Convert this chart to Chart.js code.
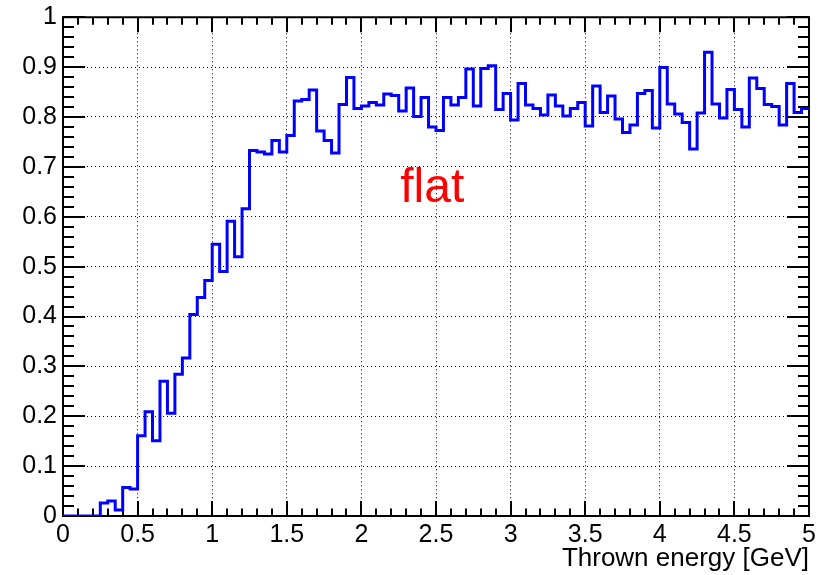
<!DOCTYPE html>
<html>
<head>
<meta charset="utf-8">
<script src="https://cdn.jsdelivr.net/npm/chart.js@4/dist/chart.umd.min.js"></script>
<style>
  html, body { margin: 0; padding: 0; background: #fff; }
  canvas { display: block; }
</style>
</head>
<body>
<canvas id="eff-chart" width="823" height="575"></canvas>
<script>
// efficiency histogram: 100 bins of 0.05 GeV between 0 and 5 GeV
var binLow = 0.0;
var binWidth = 0.05;
var efficiency = [
  0.000, 0.000, 0.000, 0.000, 0.000, 0.026, 0.030, 0.012, 0.057, 0.054,
  0.161, 0.209, 0.151, 0.270, 0.206, 0.284, 0.317, 0.404, 0.438, 0.472,
  0.545, 0.490, 0.591, 0.520, 0.616, 0.733, 0.730, 0.726, 0.753, 0.730,
  0.763, 0.832, 0.835, 0.854, 0.772, 0.753, 0.728, 0.825, 0.879, 0.817,
  0.822, 0.829, 0.824, 0.846, 0.843, 0.812, 0.858, 0.801, 0.839, 0.780,
  0.773, 0.839, 0.824, 0.839, 0.896, 0.822, 0.897, 0.903, 0.815, 0.847,
  0.794, 0.867, 0.824, 0.817, 0.804, 0.844, 0.822, 0.802, 0.817, 0.829,
  0.782, 0.862, 0.809, 0.842, 0.796, 0.769, 0.784, 0.847, 0.853, 0.778,
  0.899, 0.826, 0.806, 0.789, 0.736, 0.808, 0.930, 0.826, 0.798, 0.855,
  0.815, 0.780, 0.878, 0.857, 0.825, 0.821, 0.784, 0.867, 0.809, 0.817
];

var xTickValues = [0, 0.5, 1, 1.5, 2, 2.5, 3, 3.5, 4, 4.5, 5];
var xTickLabels = ['0', '0.5', '1', '1.5', '2', '2.5', '3', '3.5', '4', '4.5', '5'];
var yTickValues = [0, 0.1, 0.2, 0.3, 0.4, 0.5, 0.6, 0.7, 0.8, 0.9, 1];
var yTickLabels = ['0', '0.1', '0.2', '0.3', '0.4', '0.5', '0.6', '0.7', '0.8', '0.9', '1'];

var xTitle = 'Thrown energy [GeV]';
var tag = 'flat';

var FONT = "'Liberation Sans', Arial, Helvetica, sans-serif";

// one point per bin low edge, plus the upper edge of the last bin
var points = efficiency.map(function(v, i) {
  return { x: binLow + i * binWidth, y: v };
});
points.push({ x: binLow + efficiency.length * binWidth, y: efficiency[efficiency.length - 1] });

// ROOT style frame: box with inward ticks on all four sides
var rootFrame = {
  id: 'rootFrame',
  beforeDatasetsDraw: function(chart) {
    var ctx = chart.ctx, a = chart.chartArea;
    var xs = chart.scales.x, ys = chart.scales.y;
    var i, px, py, len;
    ctx.save();
    ctx.strokeStyle = '#000';
    ctx.lineWidth = 2;
    ctx.beginPath();
    // x ticks every 0.1, long ones every 0.5
    for (i = 0; i <= 50; i++) {
      px = Math.round(xs.getPixelForValue(i / 10));
      len = (i % 5 === 0) ? 15 : 7.5;
      ctx.moveTo(px, a.bottom); ctx.lineTo(px, a.bottom - len);
      ctx.moveTo(px, a.top); ctx.lineTo(px, a.top + len);
    }
    // y ticks every 0.02, long ones every 0.1
    for (i = 0; i <= 50; i++) {
      py = Math.round(ys.getPixelForValue(i / 50));
      len = (i % 5 === 0) ? 22 : 11;
      ctx.moveTo(a.left, py); ctx.lineTo(a.left + len, py);
      ctx.moveTo(a.right, py); ctx.lineTo(a.right - len, py);
    }
    ctx.stroke();
    ctx.strokeRect(a.left, a.top, a.right - a.left, a.bottom - a.top);
    ctx.restore();
  },
  afterDatasetsDraw: function(chart) {
    var ctx = chart.ctx;
    var xs = chart.scales.x, ys = chart.scales.y;
    ctx.save();
    ctx.fillStyle = '#ff0000';
    ctx.font = '48px ' + FONT;
    ctx.textAlign = 'left';
    ctx.textBaseline = 'alphabetic';
    ctx.fillText(tag, xs.getPixelForValue(2.26), ys.getPixelForValue(0.63));
    ctx.restore();
  }
};

new Chart(document.getElementById('eff-chart').getContext('2d'), {
  type: 'line',
  data: {
    datasets: [{
      data: points,
      borderColor: '#0000ff',
      borderWidth: 3,
      stepped: 'before',
      pointRadius: 0,
      fill: false,
      tension: 0
    }]
  },
  plugins: [rootFrame],
  options: {
    responsive: false,
    animation: false,
    events: [],
    layout: { padding: { top: 12, right: 14, left: 0, bottom: 0 } },
    plugins: {
      legend: { display: false },
      tooltip: { enabled: false }
    },
    scales: {
      x: {
        type: 'linear',
        min: 0,
        max: 5,
        afterBuildTicks: function(scale) {
          scale.ticks = xTickValues.map(function(v) { return { value: v }; });
        },
        afterFit: function(scale) { scale.height = 59; },
        grid: { color: '#000', lineWidth: 1, drawTicks: false },
        border: { display: false, dash: [1, 3] },
        ticks: {
          autoSkip: false,
          maxRotation: 0,
          padding: 4,
          color: '#000',
          font: { family: FONT, size: 25, lineHeight: 1.2 },
          callback: function(v, i) { return xTickLabels[i]; }
        },
        title: {
          display: true,
          text: xTitle,
          align: 'end',
          color: '#000',
          font: { family: FONT, size: 26, lineHeight: 1.2 },
          padding: { top: 0, bottom: 1 }
        }
      },
      y: {
        type: 'linear',
        min: 0,
        max: 1,
        afterBuildTicks: function(scale) {
          scale.ticks = yTickValues.map(function(v) { return { value: v }; });
        },
        afterFit: function(scale) { scale.width = 63; },
        grid: { color: '#000', lineWidth: 1, drawTicks: false },
        border: { display: false, dash: [1, 3] },
        ticks: {
          autoSkip: false,
          padding: 6,
          color: '#000',
          font: { family: FONT, size: 25, lineHeight: 0.9 },
          callback: function(v, i) { return yTickLabels[i]; }
        }
      }
    }
  }
});
</script>
</body>
</html>
